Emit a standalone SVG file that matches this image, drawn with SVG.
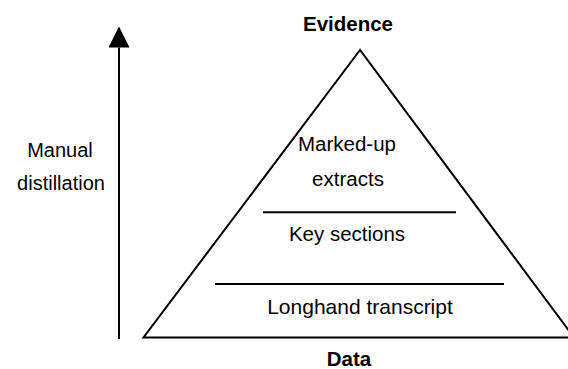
<svg xmlns="http://www.w3.org/2000/svg" width="568" height="369" viewBox="0 0 568 369">
  <style>
    .t { font-family: "Liberation Sans", Arial, sans-serif; font-size: 20.5px; fill: #000; text-anchor: middle; }
    .b { font-weight: bold; }
    .ln { stroke: #000; stroke-width: 2; fill: none; }
  </style>
  <defs>
    <marker id="ah" markerWidth="21" markerHeight="21" refX="0" refY="10.25" orient="auto" markerUnits="userSpaceOnUse" viewBox="0 0 20.5 20.5">
      <path d="M0,0 L20.5,10.25 L0,20.5 Z" fill="#000"/>
    </marker>
  </defs>
  <rect width="568" height="369" fill="#fff"/>
  <g id="connectors">
    <line x1="119" y1="339" x2="119" y2="47.5" class="ln" marker-end="url(#ah)"/>
  </g>
  <g id="pyramid">
    <polygon points="360,50 143.5,337.5 574,337.5" class="ln"/>
    <line x1="263" y1="212.3" x2="456" y2="212.3" class="ln"/>
    <line x1="215" y1="284" x2="504" y2="284" class="ln"/>
  </g>
  <g id="evidence"><text class="t b" x="348" y="30.5">Evidence</text></g>
  <g id="data"><text class="t b" x="349" y="366">Data</text></g>
  <g id="manual-distillation">
    <text class="t" x="60" y="157" style="font-size:20px">Manual</text>
    <text class="t" x="61" y="190" style="font-size:20px">distillation</text>
  </g>
  <g id="marked-up-extracts">
    <text class="t" x="347" y="151">Marked-up</text>
    <text class="t" x="348" y="186">extracts</text>
  </g>
  <g id="key-sections"><text class="t" x="347" y="241">Key sections</text></g>
  <g id="longhand-transcript"><text class="t" x="360" y="314" style="font-size:21px">Longhand transcript</text></g>
</svg>
